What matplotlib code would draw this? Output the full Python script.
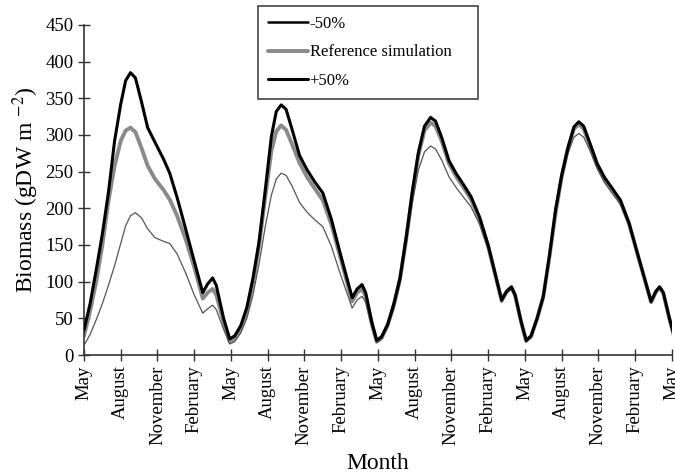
import matplotlib
matplotlib.use("Agg")
import matplotlib.pyplot as plt

plt.rcParams['font.family'] = ['Liberation Serif', 'DejaVu Serif']
plt.rcParams['mathtext.fontset'] = 'stix'

# months since the first May
months = [0, 0.5, 1, 1.5, 2, 2.5, 3, 3.4, 3.8, 4.2, 4.7, 5.2, 5.8, 6.5, 7.0, 7.6, 8.3, 9.0, 9.7,
          10.1, 10.5, 10.8, 11.4, 11.9, 12.3,
          12.8, 13.3, 13.8, 14.3, 14.8, 15.3, 15.7, 16.1, 16.5, 17.0, 17.6, 18.2, 18.8, 19.5,
          20.2, 20.9, 21.9, 22.3, 22.7, 23.0, 23.5, 23.9, 24.3,
          24.8, 25.3, 25.8, 26.3, 26.8, 27.3, 27.8, 28.3, 28.7, 29.2, 29.8, 30.4, 31.0, 31.6,
          32.3, 33.0, 34.1, 34.5, 34.9, 35.2, 35.7, 36.1, 36.5,
          37.0, 37.5, 38.0, 38.5, 39.0, 39.5, 40.0, 40.4, 40.8, 41.3, 41.9, 42.5, 43.1, 43.8,
          44.5, 45.2, 46.3, 46.7, 47.0, 47.3, 47.8, 48.2]

minus50 = [13, 28, 48, 70, 95, 122, 152, 176, 190, 194, 187, 172, 160, 155, 152, 138, 112, 82, 57,
           63, 68, 62, 35, 15, 18,
           30, 50, 82, 125, 175, 218, 240, 248, 245, 230, 208, 195, 185, 175,
           148, 112, 64, 75, 80, 72, 38, 17, 22,
           38, 63, 97, 150, 207, 252, 277, 285, 281, 266, 243, 228, 215, 202,
           178, 144, 72, 84, 90, 80, 43, 18, 24,
           49, 78, 132, 190, 238, 274, 297, 302, 297, 279, 254, 235, 221, 205,
           177, 136, 72, 86, 92, 84, 49, 24]

reference = [26, 60, 100, 150, 210, 258, 292, 306, 310, 304, 282, 258, 240, 225, 212, 190, 158, 120, 77,
             85, 90, 82, 45, 18, 22,
             36, 60, 98, 150, 215, 278, 305, 313, 307, 287, 262, 243, 228, 211,
             178, 135, 73, 85, 90, 80, 42, 18, 23,
             41, 68, 103, 157, 218, 272, 306, 317, 312, 292, 261, 243, 228, 212,
             185, 148, 74, 86, 92, 81, 44, 19, 25,
             50, 79, 134, 193, 243, 281, 308, 315, 308, 287, 259, 240, 226, 209,
             179, 137, 72, 86, 92, 84, 49, 24]

plus50 = [34, 70, 116, 165, 222, 292, 342, 374, 385, 378, 345, 310, 290, 267, 248, 215, 172, 128, 85,
          97, 105, 95, 50, 22, 26,
          40, 65, 105, 155, 225, 298, 332, 341, 335, 307, 272, 253, 237, 221,
          185, 140, 78, 90, 96, 85, 45, 20, 25,
          42, 70, 105, 160, 222, 276, 312, 324, 319, 297, 265, 247, 232, 216,
          188, 150, 75, 87, 93, 82, 45, 20, 26,
          50, 80, 135, 198, 245, 282, 311, 318, 312, 289, 261, 242, 228, 211,
          180, 138, 73, 87, 93, 85, 50, 25]

tick_months = list(range(0, 49, 3))
tick_labels = ['May', 'August', 'November', 'February'] * 4 + ['May']

fig = plt.figure(figsize=(6.75, 4.76), dpi=100)
ax = fig.add_axes([0.1244, 0.2542, 0.871, 0.6933])

line_kw = dict(solid_joinstyle='round', solid_capstyle='round')
ax.plot(months, reference, color='#8a8a8a', linewidth=2.8, label='Reference simulation', zorder=2, **line_kw)
ax.plot(months, minus50, color='#555555', linewidth=0.9, label='-50%', zorder=3, **line_kw)
ax.plot(months, plus50, color='black', linewidth=2.2, label='+50%', zorder=4, **line_kw)

ax.set_xlim(0, 48)
ax.set_ylim(0, 450)
ax.set_yticks(range(0, 451, 50))
ax.set_xticks(tick_months)
ax.set_xticklabels(tick_labels, rotation=90)
ax.tick_params(direction='inout', length=8, width=1, color='#333333', labelsize=13.5)

for side in ['top', 'right']:
    ax.spines[side].set_visible(False)
for side in ['left', 'bottom']:
    ax.spines[side].set_color('#333333')
    ax.spines[side].set_linewidth(1.2)

ax.set_xlabel('Month', fontsize=17, labelpad=6)
ax.set_ylabel('Biomass (gDW m $^{-2}$)', fontsize=17, labelpad=3)

handles, labels = ax.get_legend_handles_labels()
order = [1, 0, 2]
leg = ax.legend([handles[i] for i in order], [labels[i] for i in order],
                loc='upper left', bbox_to_anchor=(0.296, 1.058, 0.374, 0.0), mode='expand',
                borderaxespad=0, borderpad=0.6,
                fontsize=12, handlelength=2.4, handletextpad=0.1, labelspacing=0.75,
                fancybox=False, edgecolor='#444444', framealpha=1)
leg.get_frame().set_linewidth(1.2)
leg.get_lines()[0].set_color('black')
leg.get_lines()[0].set_linewidth(1.8)

fig.savefig('out.png', dpi=100)
